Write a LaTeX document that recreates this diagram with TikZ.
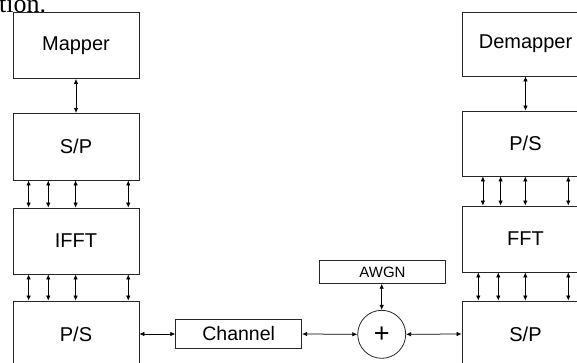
\documentclass[tikz,border=0pt]{standalone}
\usepackage{fontspec}
\setmainfont{Liberation Sans}
\newfontfamily\serifpart{Liberation Serif}
\usetikzlibrary{arrows.meta}
\begin{document}
\begin{tikzpicture}[x=1pt,y=-1pt,
  blk/.style={draw=black!85,line width=0.8pt,inner sep=0pt,minimum width=126pt,minimum height=66pt,font=\fontsize{20}{24}\selectfont},
  biarrow/.style={line width=0.75pt,{Latex[length=5pt,width=4.5pt]}-{Latex[length=5pt,width=4.5pt]}}]
\useasboundingbox (0,0) rectangle (577,362);
\clip (0,0) rectangle (577,362);
\node[anchor=base west,inner sep=0pt,font=\serifpart\fontsize{26}{30}\selectfont] (top) at (-1,12.5) {tion.};
% left column
\node[blk] (map) at (76,45.5) {Mapper};
\node[blk,minimum height=66.7pt] (sp) at (76,146.7) {S/P};
\node[blk] (ifft) at (76,241) {IFFT};
\node[blk] (ps) at (76,334) {P/S};
% right column
\node[blk,minimum width=127pt,minimum height=64pt] (dmap) at (525.5,44) {Demapper};
\node[blk,minimum width=127pt,minimum height=65pt] (ps2) at (525.5,143.5) {P/S};
\node[blk,minimum width=127pt] (fft) at (525.5,239) {FFT};
\node[blk,minimum width=127pt] (sp2) at (525.5,334) {S/P};
% channel
\node[blk,minimum height=29.4pt,font=\fontsize{19.5}{23}\selectfont] (ch) at (238.7,334) {Channel};
\node[blk,minimum width=126.4pt,minimum height=22.6pt,font=\fontsize{15}{18}\selectfont] (awgn) at (382.5,272) {AWGN};
\node[draw=black!85,line width=0.8pt,circle,minimum size=48pt,inner sep=0pt,font=\fontsize{27}{28}\selectfont] (sum) at (381.7,334.3) {+};
% connectors left
\draw[biarrow] (map.south) -- (sp.north);
\foreach \o in {16,35.7,63,115.7}{
  \draw[biarrow] ([xshift=\o pt]sp.south west) -- ([xshift=\o pt]ifft.north west);
  \draw[biarrow] ([xshift=\o pt]ifft.south west) -- ([xshift=\o pt]ps.north west);
}
% connectors right
\draw[biarrow] (dmap.south) -- (ps2.north);
\foreach \o in {21.3,39,63.7,106.7}{
  \draw[biarrow] ([xshift=\o pt]ps2.south west) -- ([xshift=\o pt]fft.north west);
}
\foreach \o in {16.7,36.7,63.7,106.7}{
  \draw[biarrow] ([xshift=\o pt]fft.south west) -- ([xshift=\o pt]sp2.north west);
}
% channel path
\draw[biarrow] (ps.east) -- (ch.west);
\draw[biarrow] (ch.east) -- (sum.west);
\draw[biarrow] (sum.east) -- (sp2.west);
\draw[biarrow] (awgn.south -| sum.north) -- (sum.north);
\end{tikzpicture}
\end{document}
